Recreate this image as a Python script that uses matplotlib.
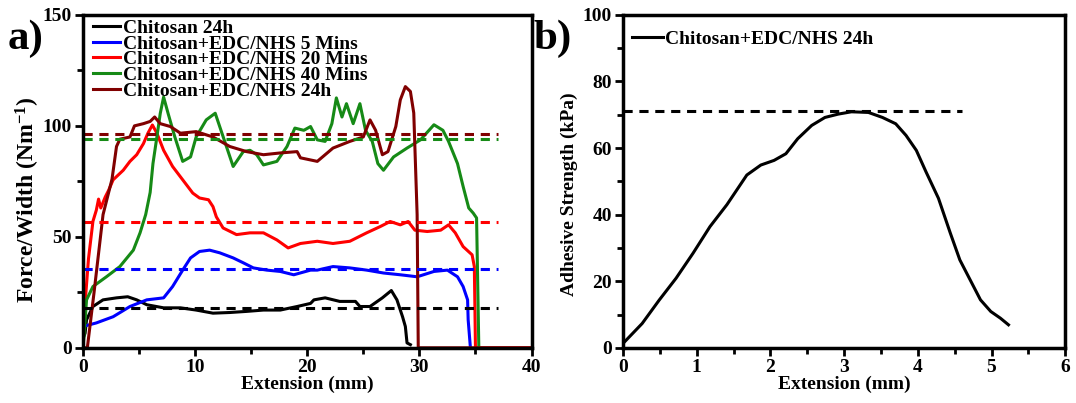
import numpy as np
import matplotlib
matplotlib.use('Agg')
import matplotlib.pyplot as plt
from matplotlib.ticker import MultipleLocator

plt.rcParams['font.family'] = ['Liberation Serif', 'DejaVu Serif']
plt.rcParams['font.weight'] = 'bold'
plt.rcParams['axes.labelweight'] = 'bold'
plt.rcParams['mathtext.fontset'] = 'custom'
plt.rcParams['mathtext.rm'] = 'Liberation Serif:bold'
plt.rcParams['mathtext.bf'] = 'Liberation Serif:bold'
plt.rcParams['mathtext.default'] = 'bf'

# panel a: force/width vs extension
chi_x = [0, 0.2, 0.33, 0.9, 1.8, 3.0, 4.0, 4.8, 5.7, 7.2, 8.7, 10.1, 11.6, 13.1, 14.6, 16.1, 17.6,
         19.1, 20.3, 20.6, 21.6, 22.9, 24.3, 24.7, 25.6, 26.7, 27.5, 28.0, 28.5, 28.75, 28.9, 29.2]
chi_y = [4, 6.6, 12.6, 18.6, 21.6, 22.5, 23, 21.6, 19.4, 18, 18, 17, 15.6, 15.9, 16.4, 17, 17,
         18.6, 20, 21.6, 22.5, 20.9, 20.9, 18.6, 18.6, 22.5, 25.8, 21.6, 14, 9.6, 2.2, 1.4]

m5_x = [0, 1.2, 2.7, 4.2, 5.7, 7.2, 8.0, 8.9, 9.6, 10.4, 11.3, 12.2, 13.4, 14.3, 15.2, 16.4, 17.6,
        18.8, 20.3, 20.9, 22.3, 23.8, 25.3, 26.8, 28.3, 29.8, 31.3, 32.5, 33.4, 33.9, 34.3, 34.35, 34.55]
m5_y = [9.6, 11.2, 14, 18.6, 21.6, 22.5, 27.6, 35, 40.5, 43.4, 44, 42.8, 40.5, 38.3, 36, 35, 34.4,
        32.9, 35, 35, 36.6, 36, 35, 33.7, 32.9, 32, 34.4, 35, 32, 27.6, 21.6, 12.6, 0]

m20_x = [0, 0.2, 0.5, 0.9, 1.2, 1.4, 1.6, 2.0, 2.3, 2.7, 3.6, 4.2, 4.8, 5.4, 5.8, 6.2, 6.6, 7.2, 8.0,
         8.9, 9.8, 10.4, 11.2, 11.6, 11.9, 12.5, 13.7, 14.9, 16.1, 17.3, 18.3, 19.4, 20.9, 22.3,
         23.8, 25.3, 26.5, 27.4, 28.3, 29.0, 29.6, 30.7, 31.9, 32.6, 33.2, 33.9, 34.7, 34.9, 35.0, 40]
m20_y = [0, 20, 40, 57, 62, 67, 63, 68, 71, 75.7, 80, 84, 87, 92, 96.7, 100.4, 96.7, 89, 81.7,
         75.7, 69.7, 67.5, 66.7, 63.6, 59, 54, 51, 51.8, 51.8, 48.6, 45, 47, 48, 47,
         48, 51.8, 54.6, 56.9, 55.4, 56.9, 53, 52.4, 53, 55.4, 51.8, 45.6, 41.9, 36.6, 0, 0]

m40_x = [0, 0.1, 0.33, 0.9, 2.1, 3.3, 4.5, 5.1, 5.6, 6.0, 6.25, 6.6, 6.9, 7.2, 7.6, 8.2, 8.9, 9.6,
         10.1, 11.0, 11.8, 12.2, 12.8, 13.4, 14.3, 14.9, 15.5, 16.1, 17.3, 18.2, 18.9, 19.7, 20.3,
         20.9, 21.6, 22.2, 22.6, 23.1, 23.5, 24.1, 24.7, 25.2, 25.8, 26.3, 26.8, 27.7, 28.9, 30.1,
         31.3, 32.1, 32.6, 33.4, 33.9, 34.4, 34.8, 35.1, 35.3]
m40_y = [0, 5, 21.6, 27.6, 32, 36.6, 44, 51.8, 60, 70, 83, 95, 105.6, 113, 105.6, 95, 84, 86,
         95, 102.7, 105.7, 99.7, 90.7, 81.7, 88.4, 89, 87, 82.4, 84, 90.7, 99, 98, 99.7,
         93.7, 93, 101, 112.6, 104, 110, 101, 110, 98, 93, 83, 80, 86, 90, 93.7,
         100.5, 98, 93, 83, 72.7, 63, 60.7, 58.5, 0]

h24_x = [0, 0.4, 1.0, 1.8, 2.6, 3.0, 3.3, 4.2, 4.6, 5.4, 6.0, 6.4, 6.9, 7.8, 8.7, 10.1, 11.6, 13.1,
         14.6, 16.1, 17.6, 19.1, 19.4, 20.9, 22.3, 23.8, 25.0, 25.6, 26.1, 26.7, 27.2, 27.9, 28.3,
         28.75, 29.2, 29.5, 29.8, 29.9, 40]
h24_y = [0, 0, 25, 60, 76, 90.7, 94, 95, 100, 101, 102, 104, 101, 99.7, 96.7, 97.4, 95, 90.7,
         88.4, 87, 87.8, 88.4, 85.6, 84, 90, 93, 95, 102.7, 98, 87, 88.4, 99.7, 111.7,
         117.7, 115.5, 105.8, 60, 0, 0]

labels_a = ['Chitosan 24h', 'Chitosan+EDC/NHS 5 Mins', 'Chitosan+EDC/NHS 20 Mins',
            'Chitosan+EDC/NHS 40 Mins', 'Chitosan+EDC/NHS 24h']
colors_a = ['black', '#0000ff', '#ff0000', '#168a16', '#800000']
means_a = [18, 35.3, 56.5, 94.3, 96.3]
mean_end_a = 37

# panel b: adhesive strength vs extension
b_x = [0, 0.26, 0.49, 0.72, 0.95, 1.18, 1.41, 1.68, 1.87, 2.05, 2.21, 2.37, 2.56, 2.74, 2.92, 3.1,
       3.33, 3.52, 3.7, 3.84, 3.98, 4.11, 4.28, 4.44, 4.57, 4.71, 4.85, 4.99, 5.12, 5.23]
b_y = [1.3, 7.3, 14.3, 20.9, 28.4, 36.4, 43, 51.9, 54.9, 56.3, 58.3, 62.8, 66.8, 69.2, 70.2, 70.9,
       70.7, 69.2, 67.3, 63.8, 59.3, 52.9, 44.9, 34.5, 26.4, 20.4, 14.4, 10.9, 8.9, 6.9]
b_mean = 71
b_mean_end = 4.6


def style_axes(ax):
    for s in ax.spines.values():
        s.set_linewidth(2.5)
    ax.tick_params(which='major', direction='out', length=6, width=2, labelsize=14, pad=2)
    ax.tick_params(which='minor', direction='out', length=4, width=2)
    for t in ax.get_xticklabels() + ax.get_yticklabels():
        t.set_fontweight('bold')


fig = plt.figure(figsize=(10.76, 4.03), dpi=100)
ax1 = fig.add_axes([0.077, 0.137, 0.417, 0.826])
ax2 = fig.add_axes([0.579, 0.137, 0.411, 0.826])

series = [(chi_x, chi_y), (m5_x, m5_y), (m20_x, m20_y), (m40_x, m40_y), (h24_x, h24_y)]
for (x, y), c, lab in zip(series, colors_a, labels_a):
    ax1.plot(x, y, color=c, lw=2.2, label=lab)
for m, c in zip(means_a, colors_a):
    ax1.plot([0, mean_end_a], [m, m], color=c, lw=2.2, ls=(0, (3, 2.2)))

ax1.set_xlim(0, 40)
ax1.set_ylim(0, 150)
ax1.xaxis.set_major_locator(MultipleLocator(10))
ax1.xaxis.set_minor_locator(MultipleLocator(5))
ax1.yaxis.set_major_locator(MultipleLocator(50))
ax1.yaxis.set_minor_locator(MultipleLocator(25))
ax1.set_xlabel('Extension (mm)', fontsize=14, labelpad=0)
ax1.set_ylabel('Force/Width (Nm$^{-1}$)', fontsize=17)
ax1.yaxis.set_label_coords(-0.092, 0.445)
style_axes(ax1)
ax1.legend(loc='upper left', bbox_to_anchor=(-0.003, 1.022), frameon=False, fontsize=14,
           handlelength=1.4, handletextpad=0.15, labelspacing=-0.1, borderpad=0.1)

ax2.plot(b_x, b_y, color='black', lw=2.2, label='Chitosan+EDC/NHS 24h')
ax2.plot([0, b_mean_end], [b_mean, b_mean], color='black', lw=2.2, ls=(0, (3, 2.2)))
ax2.set_xlim(0, 6)
ax2.set_ylim(0, 100)
ax2.xaxis.set_major_locator(MultipleLocator(1))
ax2.xaxis.set_minor_locator(MultipleLocator(0.5))
ax2.yaxis.set_major_locator(MultipleLocator(20))
ax2.yaxis.set_minor_locator(MultipleLocator(10))
ax2.set_xlabel('Extension (mm)', fontsize=14, labelpad=0)
ax2.set_ylabel('Adhesive Strength (kPa)', fontsize=14)
ax2.yaxis.set_label_coords(-0.101, 0.46)
style_axes(ax2)
ax2.legend(loc='upper left', frameon=False, fontsize=14, handlelength=1.55,
           handletextpad=0.15, borderpad=0.3, bbox_to_anchor=(-0.014, 1.0))

fig.text(0.007, 0.952, 'a)', fontsize=31, fontweight='bold', va='top')
fig.text(0.496, 0.952, 'b)', fontsize=31, fontweight='bold', va='top')

fig.savefig('out.png', dpi=100)
